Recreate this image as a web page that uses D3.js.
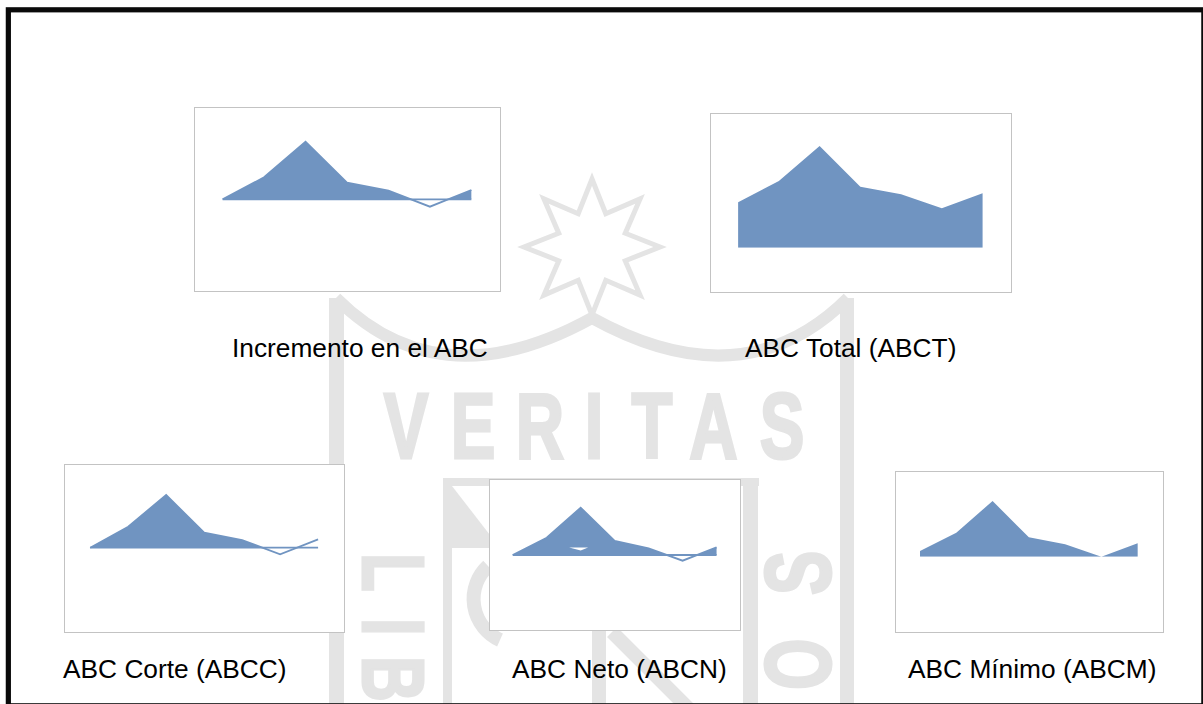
<!DOCTYPE html>
<html>
<head>
<meta charset="utf-8">
<script src="https://cdn.jsdelivr.net/npm/d3@7"></script>
<style>
  html, body { margin: 0; padding: 0; background: #fff; }
  svg { display: block; }
</style>
</head>
<body>
<svg id="chart" width="1203" height="704"></svg>
<script>
// ---------------- DATA ----------------
const categories = ["P1", "P2", "P3", "P4", "P5", "P6", "P7"];
const incremento = [0, 22, 57.6, 16.6, 8.6, -7.4, 9.3];
const abcTotal   = [45.4, 66.7, 101.7, 61, 53.4, 39.4, 54.4];
const abcCorte   = [0, 21, 52.7, 15, 7.7, -6.6, 8.4];
const abcNeto    = [0, 17.3, 47.3, 14, 6.7, -5.7, 7.7];
const abcMinimo  = [5.7, 24, 55.7, 19.4, 12.4, 0, 13.4];
// small white notch seen inside the ABCN area (index positions / values)
const netoNotchIdx = [1.66, 2.22, 2.0];
const netoNotchVal = [7.5, 7.5, 4.5];
const titles = ["Incremento en el ABC", "ABC Total (ABCT)", "ABC Corte (ABCC)", "ABC Neto (ABCN)", "ABC Mínimo (ABCM)"];

// ---------------- LAYOUT ----------------
const charts = [
  { values: incremento, box: {x:194, y:107.3, w:306, h:184.4}, domain: [-92.4, 92], fillEnd: 6, label: {x:232, y:357} },
  { values: abcTotal,   box: {x:710, y:113.3, w:300.7, h:179}, domain: [-44.6, 134.4], fillEnd: 6, label: {x:745, y:357} },
  { values: abcCorte,   box: {x:64, y:464, w:280.3, h:167.7}, domain: [-84, 83.7], fillEnd: 5, label: {x:63, y:678} },
  { values: abcNeto,    box: {x:489.3, y:479.3, w:250.7, h:151.4}, domain: [-75.7, 75.7], fillEnd: 6, label: {x:512, y:678}, notch: true },
  { values: abcMinimo,  box: {x:895, y:471, w:267.7, h:160.7}, domain: [-75, 85.7], fillEnd: 6, label: {x:908, y:678} }
];

const BLUE = "#7094c1";
const GRAYWM = "#e4e4e4";
const svg = d3.select("#chart");

// ---------------- WATERMARK (decoration) ----------------
const wm = svg.append("g").attr("class", "watermark");
// star
const starPts = d3.range(16).map(i => {
  const a = -Math.PI / 2 + i * Math.PI / 8;
  const r = i % 2 === 0 ? 68 : 36;
  return [592 + r * Math.cos(a), 247 + r * Math.sin(a)];
});
wm.append("polygon").attr("points", starPts.map(p => p.join(",")).join(" "))
  .attr("fill", "none").attr("stroke", GRAYWM).attr("stroke-width", 5).attr("stroke-linejoin", "miter");
// arcs
wm.append("path").attr("d", "M336,298 Q440,402 592,318 Q744,402 848,298")
  .attr("fill", "none").attr("stroke", GRAYWM).attr("stroke-width", 12);
// outer shield bands
wm.append("rect").attr("x", 329).attr("y", 298).attr("width", 15).attr("height", 420).attr("fill", GRAYWM);
wm.append("rect").attr("x", 840).attr("y", 298).attr("width", 14).attr("height", 420).attr("fill", GRAYWM);
// inner shield
wm.append("rect").attr("x", 443).attr("y", 478).attr("width", 9).attr("height", 240).attr("fill", GRAYWM);
wm.append("rect").attr("x", 443).attr("y", 478).attr("width", 316).attr("height", 8).attr("fill", GRAYWM);
wm.append("rect").attr("x", 743).attr("y", 478).attr("width", 15).attr("height", 240).attr("fill", GRAYWM);
wm.append("path").attr("d", "M452,486 L452,548 L500,548 Z").attr("fill", GRAYWM);
wm.append("path").attr("d", "M488,566 A45,45 0 0,0 500,640").attr("fill", "none").attr("stroke", GRAYWM).attr("stroke-width", 14);
wm.append("rect").attr("x", 592).attr("y", 630).attr("width", 14).attr("height", 80).attr("fill", GRAYWM);
wm.append("path").attr("d", "M612,632 L690,710").attr("stroke", GRAYWM).attr("stroke-width", 14);
// VERITAS
const veritas = "VERITAS".split("");
const vx = [406, 473, 540, 594, 652, 713.5, 782];
veritas.forEach((ch, i) => {
  wm.append("text")
    .attr("transform", `translate(${vx[i]},457.6) scale(0.72,1)`)
    .attr("text-anchor", "middle")
    .attr("font-family", "Liberation Sans, Arial, sans-serif")
    .attr("font-weight", "bold").attr("font-size", 93)
    .attr("fill", GRAYWM).attr("stroke", GRAYWM).attr("stroke-width", 3)
    .text(ch);
});
// LIB (rotated, left)
[["L", 553], ["I", 618], ["B", 656]].forEach(([ch, y]) => {
  wm.append("text")
    .attr("transform", `translate(363,${y}) rotate(90) scale(0.72,1)`)
    .attr("font-family", "Liberation Sans, Arial, sans-serif")
    .attr("font-weight", "bold").attr("font-size", 88)
    .attr("fill", GRAYWM).attr("stroke", GRAYWM).attr("stroke-width", 3)
    .text(ch);
});
// OS (rotated, right)
[["S", 595], ["O", 690]].forEach(([ch, y]) => {
  wm.append("text")
    .attr("transform", `translate(830,${y}) rotate(-90) scale(0.72,1)`)
    .attr("font-family", "Liberation Sans, Arial, sans-serif")
    .attr("font-weight", "bold").attr("font-size", 92)
    .attr("fill", GRAYWM).attr("stroke", GRAYWM).attr("stroke-width", 3)
    .text(ch);
});

// ---------------- CHARTS ----------------
const defs = svg.append("defs");
charts.forEach((c, ci) => {
  const b = c.box;
  const g = svg.append("g").attr("class", "mini-chart");
  g.append("rect")
    .attr("x", Math.round(b.x) + 0.5).attr("y", Math.round(b.y) + 0.5)
    .attr("width", Math.round(b.w)).attr("height", Math.round(b.h))
    .attr("fill", "#fff").attr("stroke", "#c3c3c3").attr("stroke-width", 1);

  const x = d3.scalePoint().domain(categories).range([b.x, b.x + b.w]).padding(0.69);
  const y = d3.scaleLinear().domain(c.domain).range([b.y + b.h, b.y]);
  const xi = d3.scaleLinear().domain([0, categories.length - 1])
    .range([x(categories[0]), x(categories[categories.length - 1])]);

  const data = c.values.map((v, i) => ({ cat: categories[i], v }));
  const area = d3.area().x(d => x(d.cat)).y0(y(0)).y1(d => y(d.v));
  const line = d3.line().x(d => x(d.cat)).y(d => y(d.v));

  const clipId = "clip" + ci;
  defs.append("clipPath").attr("id", clipId).append("rect")
    .attr("x", b.x).attr("y", b.y)
    .attr("width", xi(c.fillEnd) - b.x + 0.5)
    .attr("height", y(0) - b.y);

  g.append("path").datum(data).attr("d", area)
    .attr("fill", BLUE).attr("clip-path", `url(#${clipId})`);

  const hasNeg = c.values.some(v => v < 0) || c.fillEnd < c.values.length - 1;
  if (hasNeg) {
    g.append("line")
      .attr("x1", x(categories[0])).attr("x2", x(categories[categories.length - 1]))
      .attr("y1", y(0)).attr("y2", y(0))
      .attr("stroke", BLUE).attr("stroke-width", 1.8);
    g.append("path").datum(data).attr("d", line)
      .attr("fill", "none").attr("stroke", BLUE).attr("stroke-width", 1.8);
  }

  if (c.notch) {
    const pts = netoNotchIdx.map((ix, k) => [xi(ix), y(netoNotchVal[k])]);
    g.append("polygon").attr("points", pts.map(p => p.join(",")).join(" "))
      .attr("fill", "#fff");
  }

  svg.append("text")
    .attr("x", c.label.x).attr("y", c.label.y)
    .attr("font-family", "Liberation Sans, Arial, sans-serif")
    .attr("font-size", 26.3).attr("fill", "#000")
    .text(titles[ci]);
});

// ---------------- FRAME ----------------
svg.append("rect")
  .attr("x", 8.35).attr("y", 9.8).attr("width", 1195.5).attr("height", 696)
  .attr("fill", "none").attr("stroke", "#0a0a0a").attr("stroke-width", 5.2);
</script>
</body>
</html>
